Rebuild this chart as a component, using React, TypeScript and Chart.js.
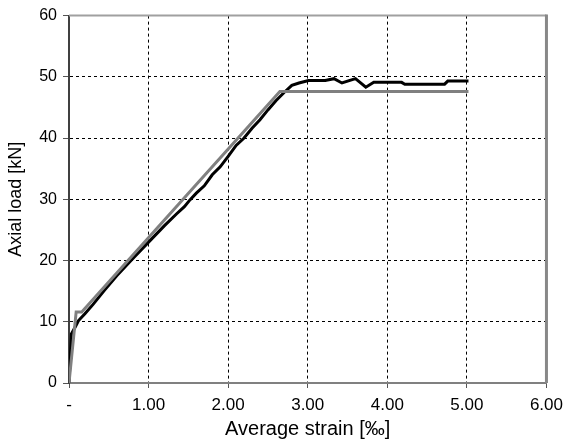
import React, { useEffect, useRef } from "react";
import { Chart, registerables } from "chart.js";

Chart.register(...registerables);

const testStrain = [0, 0.03, 0.08, 0.12, 0.2, 0.3, 0.45, 0.6, 0.8, 1.0, 1.2, 1.35, 1.45, 1.52, 1.6, 1.7, 1.8, 1.9, 2.0, 2.1, 2.2, 2.3, 2.4, 2.5, 2.6, 2.7, 2.8, 2.89, 3.01, 3.22, 3.33, 3.43, 3.6, 3.73, 3.83, 4.18, 4.22, 4.72, 4.76, 5.02];
const testLoad = [0, 8.0, 9.2, 10.2, 11.3, 12.8, 15.2, 17.5, 20.3, 23.0, 25.7, 27.6, 28.8, 29.9, 31.0, 32.2, 34.0, 35.3, 37.0, 38.8, 40.0, 41.6, 43.0, 44.6, 46.1, 47.4, 48.6, 49.0, 49.4, 49.4, 49.7, 49.0, 49.7, 48.3, 49.1, 49.1, 48.8, 48.8, 49.3, 49.3];

const modelStrain = [0, 0.09, 0.16, 2.65, 5.02];
const modelLoad = [0, 11.6, 11.6, 47.6, 47.6];

const xTicks = [0, 1, 2, 3, 4, 5, 6];
const xTickLabels = ["-", "1.00", "2.00", "3.00", "4.00", "5.00", "6.00"];

const FONT = "'Liberation Sans', Arial, sans-serif";

export default function App() {
  const ref = useRef<HTMLCanvasElement>(null);
  useEffect(() => {
    document.body.style.margin = "0";
    const frame = {
      id: "frame",
      afterDraw(chart: any) {
        const { ctx, chartArea: a } = chart;
        ctx.save();
        ctx.strokeStyle = "#a0a0a0";
        ctx.lineWidth = 2;
        ctx.beginPath();
        ctx.moveTo(a.left, a.top);
        ctx.lineTo(a.right, a.top);
        ctx.stroke();
        ctx.strokeStyle = "#888888";
        ctx.lineWidth = 3;
        ctx.beginPath();
        ctx.moveTo(a.right, a.top - 1);
        ctx.lineTo(a.right, a.bottom);
        ctx.stroke();
        ctx.restore();
      },
    };
    const chart = new Chart(ref.current!, {
      type: "line",
      data: {
        datasets: [
          {
            label: "Model",
            data: modelStrain.map((x, i) => ({ x, y: modelLoad[i] })),
            borderColor: "#808080",
            borderWidth: 3,
            pointRadius: 0,
            tension: 0,
          },
          {
            label: "Test",
            data: testStrain.map((x, i) => ({ x, y: testLoad[i] })),
            borderColor: "#000000",
            borderWidth: 3,
            pointRadius: 0,
            tension: 0,
          },
        ],
      },
      options: {
        animation: false,
        responsive: false,
        layout: { padding: { left: 0, right: 19, top: 15, bottom: 0 } },
        plugins: { legend: { display: false }, tooltip: { enabled: false } },
        scales: {
          x: {
            type: "linear",
            min: 0,
            max: 6,
            afterBuildTicks: (s: any) => {
              s.ticks = xTicks.map((v) => ({ value: v }));
            },
            afterFit: (s: any) => {
              s.height = 61;
            },
            ticks: {
              color: "#000",
              font: { family: FONT, size: 17 },
              callback: (v: any) => xTickLabels[xTicks.indexOf(Number(v))] ?? "",
              maxRotation: 0,
              padding: 7,
            },
            grid: { color: "#000", lineWidth: 1, tickLength: 5, tickColor: "#555" },
            border: { color: "#808080", width: 2, dash: [3, 3] },
            title: {
              display: true,
              text: "Average strain [‰]",
              color: "#000",
              font: { family: FONT, size: 20 },
              padding: { top: 0, bottom: 3 },
            },
          },
          y: {
            type: "linear",
            min: 0,
            max: 60,
            ticks: {
              stepSize: 10,
              color: "#000",
              font: { family: FONT, size: 16 },
              padding: 6,
            },
            afterFit: (s: any) => {
              s.width = 69;
            },
            grid: { color: "#000", lineWidth: 1, tickLength: 6, tickColor: "#555" },
            border: { color: "#404040", width: 2, dash: [3, 3] },
            title: {
              display: true,
              text: "Axial load [kN]",
              color: "#000",
              font: { family: FONT, size: 18 },
              padding: { top: 5, bottom: 6 },
            },
          },
        },
      },
      plugins: [frame],
    } as any);
    return () => chart.destroy();
  }, []);
  return <canvas ref={ref} width={570} height={444} style={{ display: "block" }} />;
}
